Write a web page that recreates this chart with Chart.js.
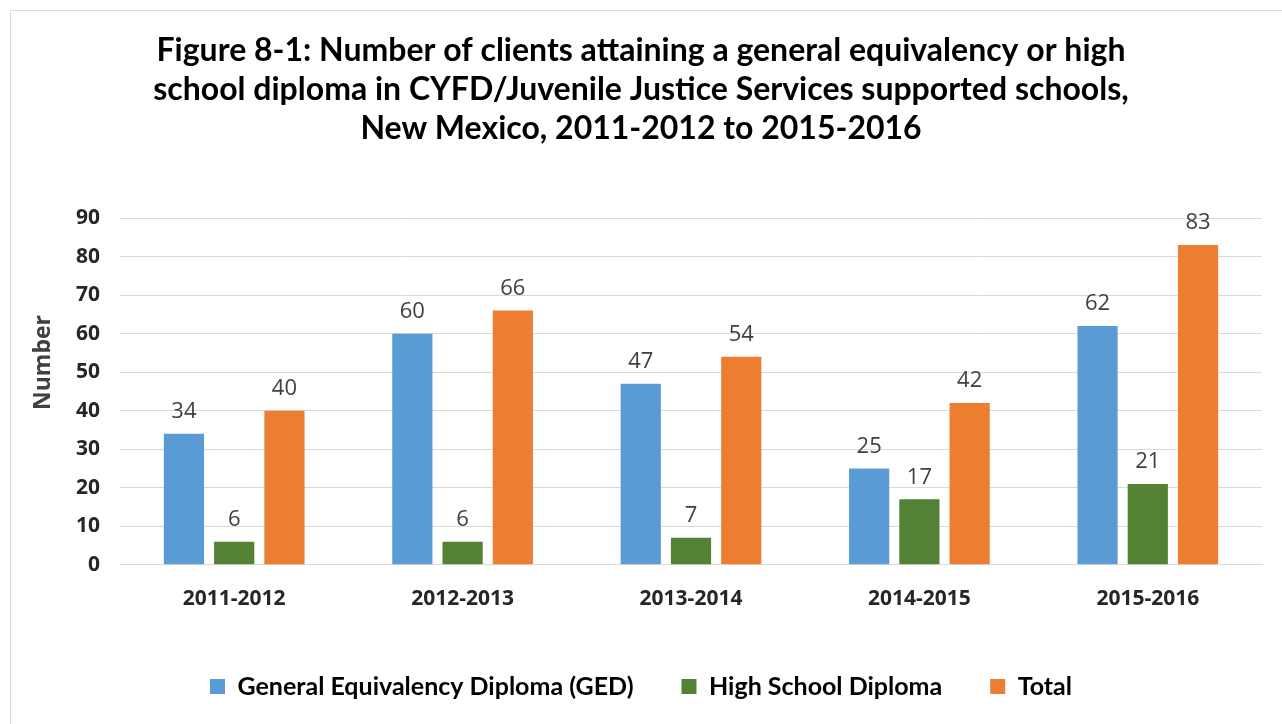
<!DOCTYPE html>
<html lang="en">
<head>
  <meta charset="UTF-8">
  <title>Figure 8-1</title>
  <script src="https://cdn.jsdelivr.net/npm/chart.js"></script>
  <style>
    html, body { margin: 0; padding: 0; background: #fff; }
    .frame { position: absolute; left: 10px; top: 10px; width: 1290px; height: 730px; border: 1px solid #d9d9d9; }
    .wrap { position: absolute; left: 0; top: 0; width: 1282px; height: 724px; }
  </style>
</head>
<body>
<div class="frame"></div>
<div class="wrap"><canvas id="chart"></canvas></div>

<script>
const years = ["2011-2012", "2012-2013", "2013-2014", "2014-2015", "2015-2016"];
const ged = [34, 60, 47, 25, 62];
const highSchool = [6, 6, 7, 17, 21];
const total = [40, 66, 54, 42, 83];

const titleLines = [
  "Figure 8-1: Number of clients attaining a general equivalency or high",
  "school diploma in CYFD/Juvenile Justice Services supported schools,",
  "New Mexico, 2011-2012 to 2015-2016"
];
const yTitle = "Number";

// numbers above the bars + the y axis title (sits a bit above centre, like Excel did)
const extras = {
  id: 'extras',
  afterDatasetsDraw(chart) {
    const ctx = chart.ctx;
    ctx.save();
    ctx.font = '22px "Open Sans", sans-serif';
    ctx.fillStyle = '#404040';
    ctx.textAlign = 'center';
    ctx.textBaseline = 'bottom';
    chart.data.datasets.forEach((ds, i) => {
      chart.getDatasetMeta(i).data.forEach((bar, j) => {
        ctx.fillText(ds.data[j], bar.x, bar.y - 11);
      });
    });
    const area = chart.chartArea;
    ctx.translate(43, (area.top + area.bottom) / 2 - 29);
    ctx.rotate(-Math.PI / 2);
    ctx.font = 'bold 23px "Open Sans", sans-serif';
    ctx.textBaseline = 'middle';
    ctx.fillText(yTitle, 0, 0);
    ctx.restore();
  }
};

new Chart(document.getElementById('chart'), {
  type: 'bar',
  data: {
    labels: years,
    datasets: [
      { label: 'General Equivalency Diploma (GED)', data: ged, backgroundColor: '#5b9bd5' },
      { label: 'High School Diploma', data: highSchool, backgroundColor: '#548235' },
      { label: 'Total', data: total, backgroundColor: '#ed7d31' }
    ]
  },
  options: {
    responsive: true,
    maintainAspectRatio: false,
    animation: false,
    datasets: { bar: { barPercentage: 0.8, categoryPercentage: 0.66 } },
    layout: { padding: { top: 31, left: 20, right: 20, bottom: 15 } },
    plugins: {
      title: {
        display: true,
        text: titleLines,
        color: '#000',
        font: { family: 'Lato', size: 32, weight: 'bold', lineHeight: 1.22 },
        padding: { top: 0, bottom: 70 }
      },
      legend: {
        position: 'bottom',
        labels: {
          color: '#000',
          font: { family: 'Lato', size: 25, weight: 'bold' },
          boxWidth: 15, boxHeight: 15,
          padding: 48
        }
      },
      tooltip: { enabled: false }
    },
    scales: {
      x: {
        grid: { display: false },
        border: { color: '#d9d9d9' },
        ticks: { color: '#262626', font: { family: 'Open Sans', size: 21, weight: 'bold' }, padding: 14 }
      },
      y: {
        min: 0, max: 90,
        ticks: { stepSize: 10, color: '#262626', font: { family: 'Open Sans', size: 21, weight: 'bold' }, padding: 20 },
        grid: { color: '#d9d9d9', drawTicks: false },
        border: { display: false },
        afterFit(scale) { scale.width = 100; }
      }
    }
  },
  plugins: [extras]
});
</script>
</body>
</html>
